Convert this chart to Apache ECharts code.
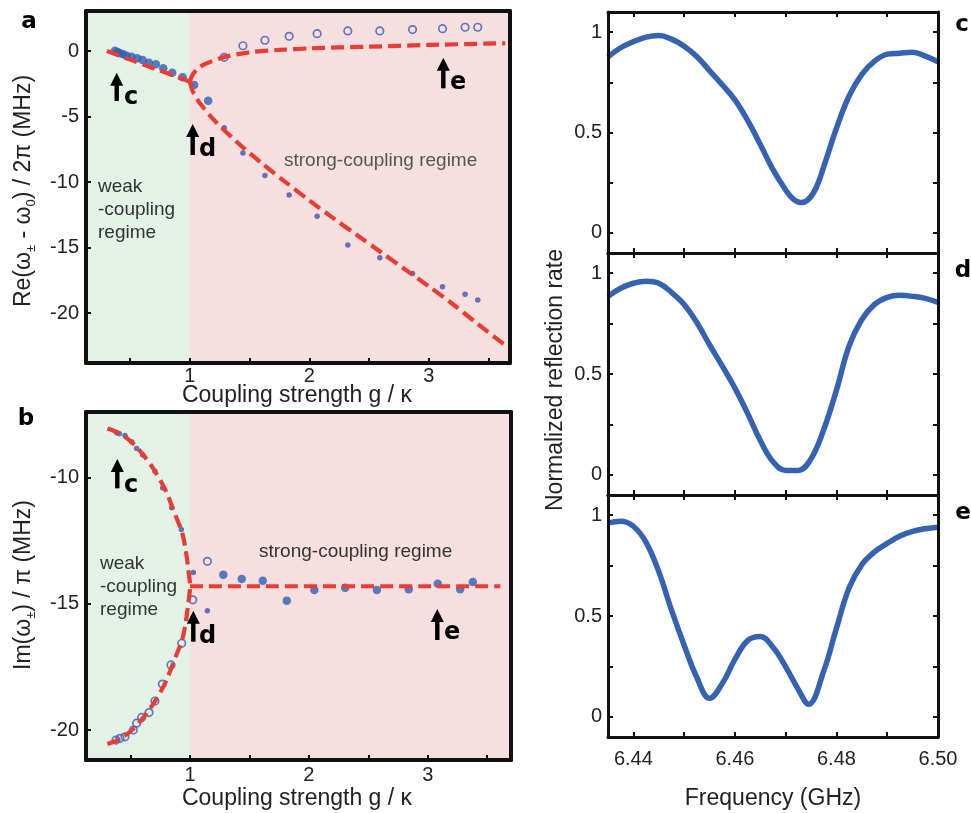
<!DOCTYPE html>
<html><head><meta charset="utf-8">
<script src="https://cdn.jsdelivr.net/npm/echarts@6/dist/echarts.min.js"></script>
<style>html,body{margin:0;padding:0;background:#fff}#c{width:971px;height:813px}</style>
</head><body><div id="c"></div>
<script>
// ---------- Panel a : Re(ω± - ω0)/2π vs g/κ ----------
const aWeakFit = [[0.305,0.0],[0.5,-0.66],[0.7,-1.33],[0.9,-2.0],[1.0,-2.34]];
const aUpperFit = [[1.0,-2.34],[1.02,-1.85],[1.05,-1.5],[1.084,-1.2],[1.167,-0.84],[1.3,-0.43],[1.5,-0.1],[1.75,0.08],[2.0,0.2],[2.5,0.33],[3.0,0.46],[3.64,0.59]];
const aLowerFit = [[1.0,-2.34],[1.02,-3.0],[1.05,-3.5],[1.084,-3.99],[1.2,-5.25],[1.4,-7.0],[1.6,-8.55],[1.8,-10.0],[2.0,-11.4],[2.2,-12.75],[2.4,-14.05],[2.6,-15.35],[2.8,-16.65],[3.0,-17.95],[3.2,-19.3],[3.4,-20.75],[3.64,-22.44]];
const aFilled = [[0.372,0.02],[0.395,-0.08],[0.414,-0.18],[0.442,-0.25],[0.47,-0.36],[0.512,-0.44],[0.559,-0.56],[0.604,-0.69],[0.657,-0.89],[0.715,-1.02],[0.777,-1.32],[0.852,-1.66],[0.939,-2.0],[1.036,-2.6],[1.153,-3.8]];
const aPlus = [[1.287,-5.85],[1.444,-7.79],[1.628,-9.49],[1.831,-10.99],[2.065,-12.6],[2.322,-14.79],[2.59,-15.78],[2.864,-16.97],[3.115,-17.99],[3.304,-18.56],[3.41,-18.99]];
const aOpen = [[1.287,-0.48],[1.444,0.4],[1.628,0.82],[1.831,1.12],[2.065,1.32],[2.322,1.53],[2.59,1.53],[2.864,1.63],[3.115,1.7],[3.304,1.81],[3.41,1.81]];
// ---------- Panel b : Im(ω±)/π vs g/κ ----------
const bWeakFit = [[0.305,-8.04],[0.4,-8.22],[0.5,-8.55],[0.6,-9.05],[0.7,-9.7],[0.8,-10.55],[0.85,-11.15],[0.9,-11.75],[0.93,-12.1],[0.96,-12.75],[0.985,-13.6],[1.0,-14.3],[0.985,-15.0],[0.96,-15.85],[0.93,-16.5],[0.9,-16.85],[0.85,-17.45],[0.8,-18.05],[0.7,-18.9],[0.6,-19.55],[0.5,-20.05],[0.4,-20.38],[0.305,-20.56]];
const bStrongFit = [[1.0,-14.3],[3.61,-14.3]];
const bPlus = [[0.383,-8.21],[0.405,-8.25],[0.453,-8.32],[0.509,-8.57],[0.551,-8.84],[0.602,-9.1],[0.705,-9.74],[0.77,-10.4],[0.846,-11.19],[0.927,-12.05],[1.028,-13.75],[1.146,-15.27]];
const bOpen = [[0.377,-20.4],[0.411,-20.33],[0.453,-20.27],[0.523,-20.0],[0.551,-19.73],[0.593,-19.5],[0.655,-19.31],[0.705,-18.85],[0.767,-18.18],[0.84,-17.42],[0.93,-16.56],[1.023,-14.84],[1.146,-13.31]];
const bFilled = [[1.28,-13.84],[1.435,-14.01],[1.612,-14.08],[1.814,-14.87],[2.046,-14.45],[2.305,-14.36],[2.572,-14.45],[2.84,-14.42],[3.084,-14.2],[3.272,-14.42],[3.379,-14.13]];
// ---------- Panels c, d, e : reflection spectra (frequency GHz, normalized reflection) ----------
const specC = [[6.435,0.877],[6.4375,0.922],[6.44,0.952],[6.4425,0.975],[6.445,0.983],[6.4475,0.965],[6.45,0.930],[6.4525,0.878],[6.455,0.808],[6.4575,0.738],[6.46,0.662],[6.4625,0.560],[6.465,0.440],[6.4675,0.315],[6.47,0.214],[6.4715,0.168],[6.473,0.151],[6.4745,0.168],[6.476,0.225],[6.4775,0.330],[6.48,0.521],[6.4825,0.683],[6.485,0.790],[6.4875,0.855],[6.49,0.890],[6.4925,0.895],[6.495,0.900],[6.4975,0.880],[6.50,0.852]];
const specD = [[6.435,0.885],[6.4375,0.925],[6.44,0.950],[6.4425,0.960],[6.445,0.950],[6.4475,0.905],[6.45,0.845],[6.4525,0.755],[6.455,0.645],[6.4575,0.540],[6.46,0.430],[6.4625,0.305],[6.465,0.170],[6.4675,0.065],[6.47,0.022],[6.4725,0.022],[6.475,0.080],[6.4775,0.225],[6.48,0.420],[6.4825,0.640],[6.485,0.770],[6.4875,0.845],[6.49,0.880],[6.4925,0.890],[6.495,0.885],[6.4975,0.875],[6.50,0.855]];
const specE = [[6.435,0.962],[6.4375,0.970],[6.44,0.945],[6.4425,0.865],[6.445,0.720],[6.4475,0.530],[6.45,0.355],[6.4525,0.195],[6.455,0.092],[6.4575,0.165],[6.46,0.285],[6.4625,0.378],[6.465,0.398],[6.4675,0.345],[6.47,0.248],[6.4725,0.135],[6.4745,0.063],[6.4775,0.228],[6.48,0.440],[6.4825,0.640],[6.485,0.755],[6.4875,0.818],[6.49,0.860],[6.4925,0.897],[6.495,0.920],[6.4975,0.933],[6.50,0.940]];
// ---------- tick values ----------
const abXTicks = [0.5,1,1.5,2,2.5,3,3.5];
const abXLabels = [1,2,3];
const aYLabels = [0,-5,-10,-15,-20];
const bYLabels = [-10,-15,-20];
const fTicks = [6.44,6.45,6.46,6.47,6.48,6.49,6.50];
const fLabels = [6.44,6.46,6.48,6.50];
const rYTicks = [0,0.25,0.5,0.75,1];
const rYLabels = [0,0.5,1];

const FONT = '"Liberation Sans", Arial, Helvetica, sans-serif';
const HEAVY = '"DejaVu Sans", "Liberation Sans", Arial, sans-serif';
const RED = '#ea3b34', BLUE = '#2f5fb5', PURP = '#4353aa', SPEC = '#3563b1';
const GREEN = '#e3f1e7', PINK = '#f5dfdf';

const chart = echarts.init(document.getElementById('c'), null, {renderer:'canvas'});
const grids = [
  {left:86, top:11, width:424, height:352},
  {left:86, top:412, width:425, height:348},
  {left:608, top:12, width:330, height:241},
  {left:608, top:253, width:330, height:242},
  {left:608, top:495, width:330, height:242}
];
function ax(gi, min, max, pos, lw, tk, lb) {
  return {gridIndex:gi, type:'value', min:min, max:max, position:pos, z:10,
    axisLine:{show:true, onZero:false, lineStyle:{color:'#111', width:lw}},
    axisTick: tk ? {show:true, inside:true, length:5, lineStyle:{color:'#111', width:2}, customValues:tk} : {show:false},
    axisLabel: lb ? Object.assign({show:true, customValues:lb.v, margin:lb.m, fontSize:20, color:'#222', fontFamily:FONT}, lb.f ? {formatter:lb.f} : {}) : {show:false},
    splitLine:{show:false}};
}
const A_X = [0.13, 3.68], B_X = [0.125, 3.70];
const A_Y = [-23.8, 3.05], B_Y = [-21.19, -7.39];
const F_X = [6.435, 6.50], R_Y = [-0.1, 1.1];
const fmt2 = v => v.toFixed(2);
const xAxis = [
  ax(0, A_X[0], A_X[1], 'bottom', 4, abXTicks, {v:abXLabels, m:3}),
  ax(0, A_X[0], A_X[1], 'top', 4, null, null),
  ax(1, B_X[0], B_X[1], 'bottom', 4, abXTicks, {v:abXLabels, m:5}),
  ax(1, B_X[0], B_X[1], 'top', 4, null, null),
  ax(2, F_X[0], F_X[1], 'bottom', 3, fTicks, null),
  ax(2, F_X[0], F_X[1], 'top', 3, fTicks, null),
  ax(3, F_X[0], F_X[1], 'bottom', 3, fTicks, null),
  ax(3, F_X[0], F_X[1], 'top', 3, fTicks, null),
  ax(4, F_X[0], F_X[1], 'bottom', 3, fTicks, {v:fLabels, m:12, f:fmt2}),
  ax(4, F_X[0], F_X[1], 'top', 3, fTicks, null)
];
const yAxis = [
  ax(0, A_Y[0], A_Y[1], 'left', 4, aYLabels, {v:aYLabels, m:7}),
  ax(0, A_Y[0], A_Y[1], 'right', 4, null, null),
  ax(1, B_Y[0], B_Y[1], 'left', 4, bYLabels, {v:bYLabels, m:7}),
  ax(1, B_Y[0], B_Y[1], 'right', 4, null, null),
  ax(2, R_Y[0], R_Y[1], 'left', 3, rYTicks, {v:rYLabels, m:6}),
  ax(2, R_Y[0], R_Y[1], 'right', 3, rYTicks, null),
  ax(3, R_Y[0], R_Y[1], 'left', 3, rYTicks, {v:rYLabels, m:6}),
  ax(3, R_Y[0], R_Y[1], 'right', 3, rYTicks, null),
  ax(4, R_Y[0], R_Y[1], 'left', 3, rYTicks, {v:rYLabels, m:6}),
  ax(4, R_Y[0], R_Y[1], 'right', 3, rYTicks, null)
];
function bg(gi, xr) {
  return {type:'line', xAxisIndex:2*gi, yAxisIndex:2*gi, data:[], silent:true, z:1,
    markArea:{silent:true, label:{show:false}, data:[
      [{xAxis:xr[0], itemStyle:{color:GREEN, borderWidth:0}}, {xAxis:1}],
      [{xAxis:1, itemStyle:{color:PINK, borderWidth:0}}, {xAxis:xr[1]}]
    ]}};
}
function dash(gi, data) {
  return {type:'line', xAxisIndex:2*gi, yAxisIndex:2*gi, data:data, showSymbol:false, smooth:0.3, z:5, silent:true,
    lineStyle:{color:RED, width:4.2, type:[13,6]}};
}
function pts(gi, data, kind) {
  const s = {type:'scatter', xAxisIndex:2*gi, yAxisIndex:2*gi, data:data, z:3, silent:true, symbol:'circle'};
  if (kind === 'filled') { s.symbolSize = 8.5; s.itemStyle = {color:BLUE}; }
  else if (kind === 'plus') { s.symbolSize = 5.5; s.itemStyle = {color:PURP}; }
  else { s.symbolSize = 7.5; s.itemStyle = {color:'rgba(0,0,0,0)', borderColor:'#3d5bb5', borderWidth:1.7}; }
  return s;
}
function spec(gi, data) {
  return {type:'line', xAxisIndex:2*gi, yAxisIndex:2*gi, data:data, showSymbol:false, smooth:0.4, z:3, silent:true,
    lineStyle:{color:SPEC, width:5.5}};
}
const series = [
  bg(0, A_X), bg(1, B_X),
  pts(0, aFilled, 'filled'), pts(0, aPlus, 'plus'), pts(0, aOpen, 'open'),
  dash(0, aWeakFit), dash(0, aUpperFit), dash(0, aLowerFit),
  pts(1, bFilled, 'filled'), pts(1, bPlus, 'plus'), pts(1, bOpen, 'open'),
  dash(1, bWeakFit), dash(1, bStrongFit),
  spec(2, specC), spec(3, specD), spec(4, specE)
];
// ---------- annotations ----------
function arrow(x, yTip, yBot, label, lx, ly) {
  return [
    {type:'rect', shape:{x:x-2.2, y:yTip+9, width:4.4, height:yBot-yTip-9}, style:{fill:'#000'}, z:20},
    {type:'polygon', shape:{points:[[x,yTip],[x-6.5,yTip+13],[x+6.5,yTip+13]]}, style:{fill:'#000'}, z:20},
    {type:'text', x:lx, y:ly, z:20, style:{text:label, fontSize:24, fontWeight:'bold', fontFamily:HEAVY, fill:'#000', align:'left', verticalAlign:'middle'}}
  ];
}
function txt(x, y, s, size, opts) {
  return {type:'text', x:x, y:y, z:20, style:Object.assign({text:s, fontSize:size, fontFamily:FONT, fill:'#222', align:'center', verticalAlign:'middle'}, opts||{})};
}
const rich = {n:{fontSize:23, fontFamily:FONT, fill:'#222', lineHeight:28}, s:{fontSize:13, fontFamily:FONT, fill:'#222', lineHeight:13, verticalAlign:'bottom'}};
const graphic = [].concat(
  arrow(116.7, 72.7, 101, 'c', 124, 98),
  arrow(192.7, 124, 155, 'd', 199, 150),
  arrow(443.3, 57.7, 88.3, 'e', 450, 83),
  arrow(117.3, 459, 488.3, 'c', 124, 486),
  arrow(193.3, 610.7, 641.7, 'd', 199, 637),
  arrow(437.3, 609, 640, 'e', 444, 633),
  [
    txt(98, 175, 'weak\n-coupling\nregime', 19, {align:'left', verticalAlign:'top', lineHeight:23, fill:'#333'}),
    txt(284, 161, 'strong-coupling regime', 19, {align:'left', fill:'#555'}),
    txt(100, 552, 'weak\n-coupling\nregime', 19, {align:'left', verticalAlign:'top', lineHeight:23, fill:'#333'}),
    txt(259, 552, 'strong-coupling regime', 19, {align:'left', fill:'#333'}),
    txt(297, 396, 'Coupling strength g / κ', 23),
    txt(297, 799, 'Coupling strength g / κ', 23),
    txt(773, 799, 'Frequency (GHz)', 23),
    {type:'text', x:556, y:380, rotation:Math.PI/2, z:20, style:{text:'Normalized reflection rate', fontSize:23, fontFamily:FONT, fill:'#222', align:'center', verticalAlign:'middle'}},
    {type:'text', x:24, y:191, rotation:Math.PI/2, z:20, style:{text:'{n|Re(ω}{s|±}{n| - ω}{s|0}{n|) / 2π (MHz)}', rich:rich, align:'center', verticalAlign:'middle'}},
    {type:'text', x:24, y:585, rotation:Math.PI/2, z:20, style:{text:'{n|Im(ω}{s|±}{n|) / π (MHz)}', rich:rich, align:'center', verticalAlign:'middle'}},
    txt(29, 22, 'a', 23, {fontWeight:'bold', fontFamily:HEAVY, fill:'#000'}),
    txt(26, 419, 'b', 23, {fontWeight:'bold', fontFamily:HEAVY, fill:'#000'}),
    txt(962, 25, 'c', 23, {fontWeight:'bold', fontFamily:HEAVY, fill:'#000'}),
    txt(963, 271, 'd', 23, {fontWeight:'bold', fontFamily:HEAVY, fill:'#000'}),
    txt(963, 513, 'e', 23, {fontWeight:'bold', fontFamily:HEAVY, fill:'#000'})
  ]
);
chart.setOption({animation:false, backgroundColor:'#fff', grid:grids, xAxis:xAxis, yAxis:yAxis, series:series, graphic:graphic});
</script></body></html>
